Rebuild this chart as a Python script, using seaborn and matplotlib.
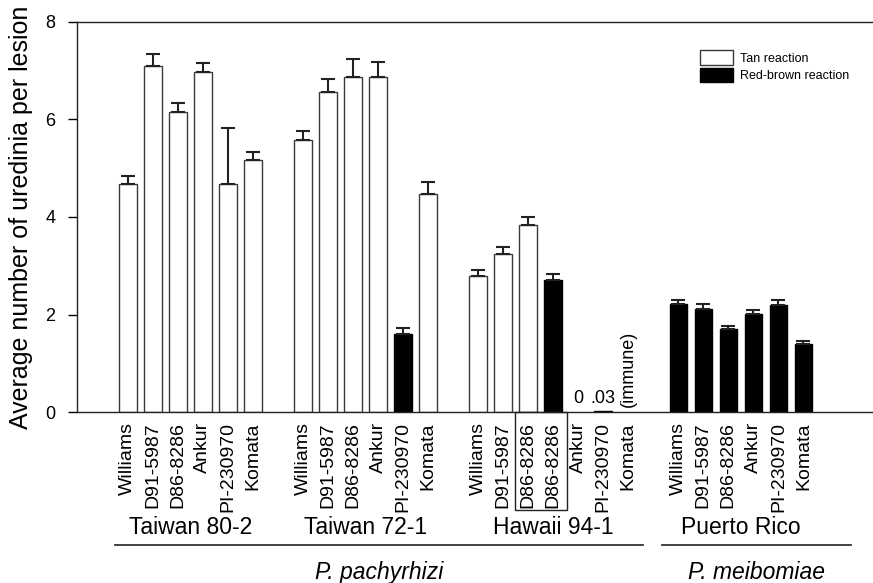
import numpy as np
import pandas as pd
import seaborn as sns
import matplotlib.pyplot as plt
from matplotlib.patches import Rectangle
from matplotlib.lines import Line2D

# ~ data
isolates = ["Taiwan 80-2", "Taiwan 72-1", "Hawaii 94-1", "Puerto Rico"]

tw802_cult = ["Williams", "D91-5987", "D86-8286", "Ankur", "PI-230970", "Komata"]
tw802_mean = [4.68, 7.10, 6.15, 6.97, 4.68, 5.17]
tw802_err = [0.15, 0.24, 0.18, 0.19, 1.15, 0.17]
tw802_react = ["Tan", "Tan", "Tan", "Tan", "Tan", "Tan"]

tw721_cult = ["Williams", "D91-5987", "D86-8286", "Ankur", "PI-230970", "Komata"]
tw721_mean = [5.58, 6.57, 6.87, 6.87, 1.60, 4.48]
tw721_err = [0.18, 0.25, 0.37, 0.30, 0.12, 0.24]
tw721_react = ["Tan", "Tan", "Tan", "Tan", "Red", "Tan"]

hi941_cult = ["Williams", "D91-5987", "D86-8286", "D86-8286", "Ankur", "PI-230970", "Komata"]
hi941_mean = [2.79, 3.24, 3.84, 2.70, 0.0, 0.03, np.nan]
hi941_err = [0.12, 0.14, 0.15, 0.13, np.nan, np.nan, np.nan]
hi941_react = ["Tan", "Tan", "Tan", "Red", "Red", "Red", "Red"]

pr_cult = ["Williams", "D91-5987", "D86-8286", "Ankur", "PI-230970", "Komata"]
pr_mean = [2.21, 2.12, 1.70, 2.01, 2.20, 1.40]
pr_err = [0.10, 0.10, 0.07, 0.08, 0.09, 0.07]
pr_react = ["Red", "Red", "Red", "Red", "Red", "Red"]

species = ["P. pachyrhizi", "P. meibomiae"]
reaction_names = {"Tan": "Tan reaction", "Red": "Red-brown reaction"}

# ~ build the table, one empty slot between isolates
rows = []
pos = 0
for iso, cult, mean, err, react in zip(
        isolates,
        [tw802_cult, tw721_cult, hi941_cult, pr_cult],
        [tw802_mean, tw721_mean, hi941_mean, pr_mean],
        [tw802_err, tw721_err, hi941_err, pr_err],
        [tw802_react, tw721_react, hi941_react, pr_react]):
    for c, m, e, r in zip(cult, mean, err, react):
        rows.append({"pos": pos, "isolate": iso, "cultivar": c, "mean": m,
                     "err": e, "reaction": reaction_names[r]})
        pos += 1
    pos += 1
df = pd.DataFrame(rows)

plt.rcParams['font.family'] = ['Liberation Sans', 'DejaVu Sans']

fig = plt.figure(figsize=(8.73, 5.83), dpi=100)
ax = fig.add_axes([0.0882, 0.2928, 0.9118, 0.670])

bars = df.dropna(subset=["mean"])
bars = bars[bars["mean"] > 0]
sns.barplot(data=bars, x="pos", y="mean", hue="reaction", native_scale=True,
            dodge=False, width=0.7, errorbar=None,
            hue_order=["Tan reaction", "Red-brown reaction"],
            palette={"Tan reaction": "white", "Red-brown reaction": "black"},
            edgecolor="#3a3a3a", linewidth=1.0, ax=ax)
for p in ax.patches:
    if p.get_facecolor()[0] < 0.5:
        p.set_edgecolor("black")

eb = df.dropna(subset=["err"])
ax.errorbar(eb["pos"], eb["mean"], yerr=[np.zeros(len(eb)), eb["err"]],
            fmt="none", ecolor="#222222", elinewidth=1.5, capsize=5, capthick=1.5)

# ~ values without bars in Hawaii 94-1
hi = df[df["isolate"] == "Hawaii 94-1"]
ank = hi[hi["cultivar"] == "Ankur"].iloc[0]
pi = hi[hi["cultivar"] == "PI-230970"].iloc[0]
kom = hi[hi["cultivar"] == "Komata"].iloc[0]
ax.text(ank["pos"], 0.1, "%g" % ank["mean"], ha="center", va="bottom", fontsize=13)
ax.text(pi["pos"], 0.1, ("%.2f" % pi["mean"]).lstrip("0"), ha="center", va="bottom", fontsize=13)
ax.text(kom["pos"], 0.1, "(immune)", ha="center", va="bottom", rotation=90, fontsize=13)

ax.set_xlim(-2.03, 29.78)
ax.set_ylim(0, 8)
ax.set_yticks([0, 2, 4, 6, 8])
ax.set_xticks(df["pos"], df["cultivar"], rotation=90)
ax.tick_params(axis="x", length=0, pad=7, labelsize=14)
ax.tick_params(axis="y", length=6.5, width=1, pad=9, labelsize=13, direction="out")
ax.set_xlabel("")
ax.set_ylabel("Average number of uredinia per lesion", fontsize=18, labelpad=9)

for s in ["left", "bottom", "top"]:
    ax.spines[s].set_color("#222222")
    ax.spines[s].set_linewidth(1.0)
ax.spines["right"].set_visible(False)

# ~ box round the two D86-8286 labels
d86 = hi[hi["cultivar"] == "D86-8286"]["pos"]
tr = ax.get_xaxis_transform()
ax.add_patch(Rectangle((d86.min() - 0.52, -0.25), d86.max() - d86.min() + 1.08, 0.25,
                       transform=tr, fill=False, edgecolor="#222222", lw=1.0, clip_on=False))

# ~ isolate names, underlines and species
for iso in isolates:
    p = df[df["isolate"] == iso]["pos"]
    ax.text((p.min() + p.max()) / 2, -0.296, iso, transform=tr, ha="center", va="center", fontsize=16.5)

pach = df[df["isolate"] != "Puerto Rico"]["pos"]
meib = df[df["isolate"] == "Puerto Rico"]["pos"]
for grp, sp, (a, b) in zip([pach, meib], species, [(0.5, 0.6), (0.66, 1.9)]):
    x0, x1 = grp.min() - a, grp.max() + b
    ax.add_line(Line2D([x0, x1], [-0.34, -0.34], transform=tr, color="#333333", lw=1.3, clip_on=False))
    ax.text((x0 + x1) / 2, -0.41, sp, transform=tr, ha="center", va="center",
            fontsize=16.5, style="italic")

handles, labels = ax.get_legend_handles_labels()
ax.legend(handles, labels, loc="upper left", bbox_to_anchor=(0.783, 0.927), frameon=False,
          fontsize=9, handlelength=2.6, handleheight=1.45, handletextpad=0.6,
          labelspacing=0.2, borderpad=0, borderaxespad=0)

fig.savefig("out.png", dpi=100)
